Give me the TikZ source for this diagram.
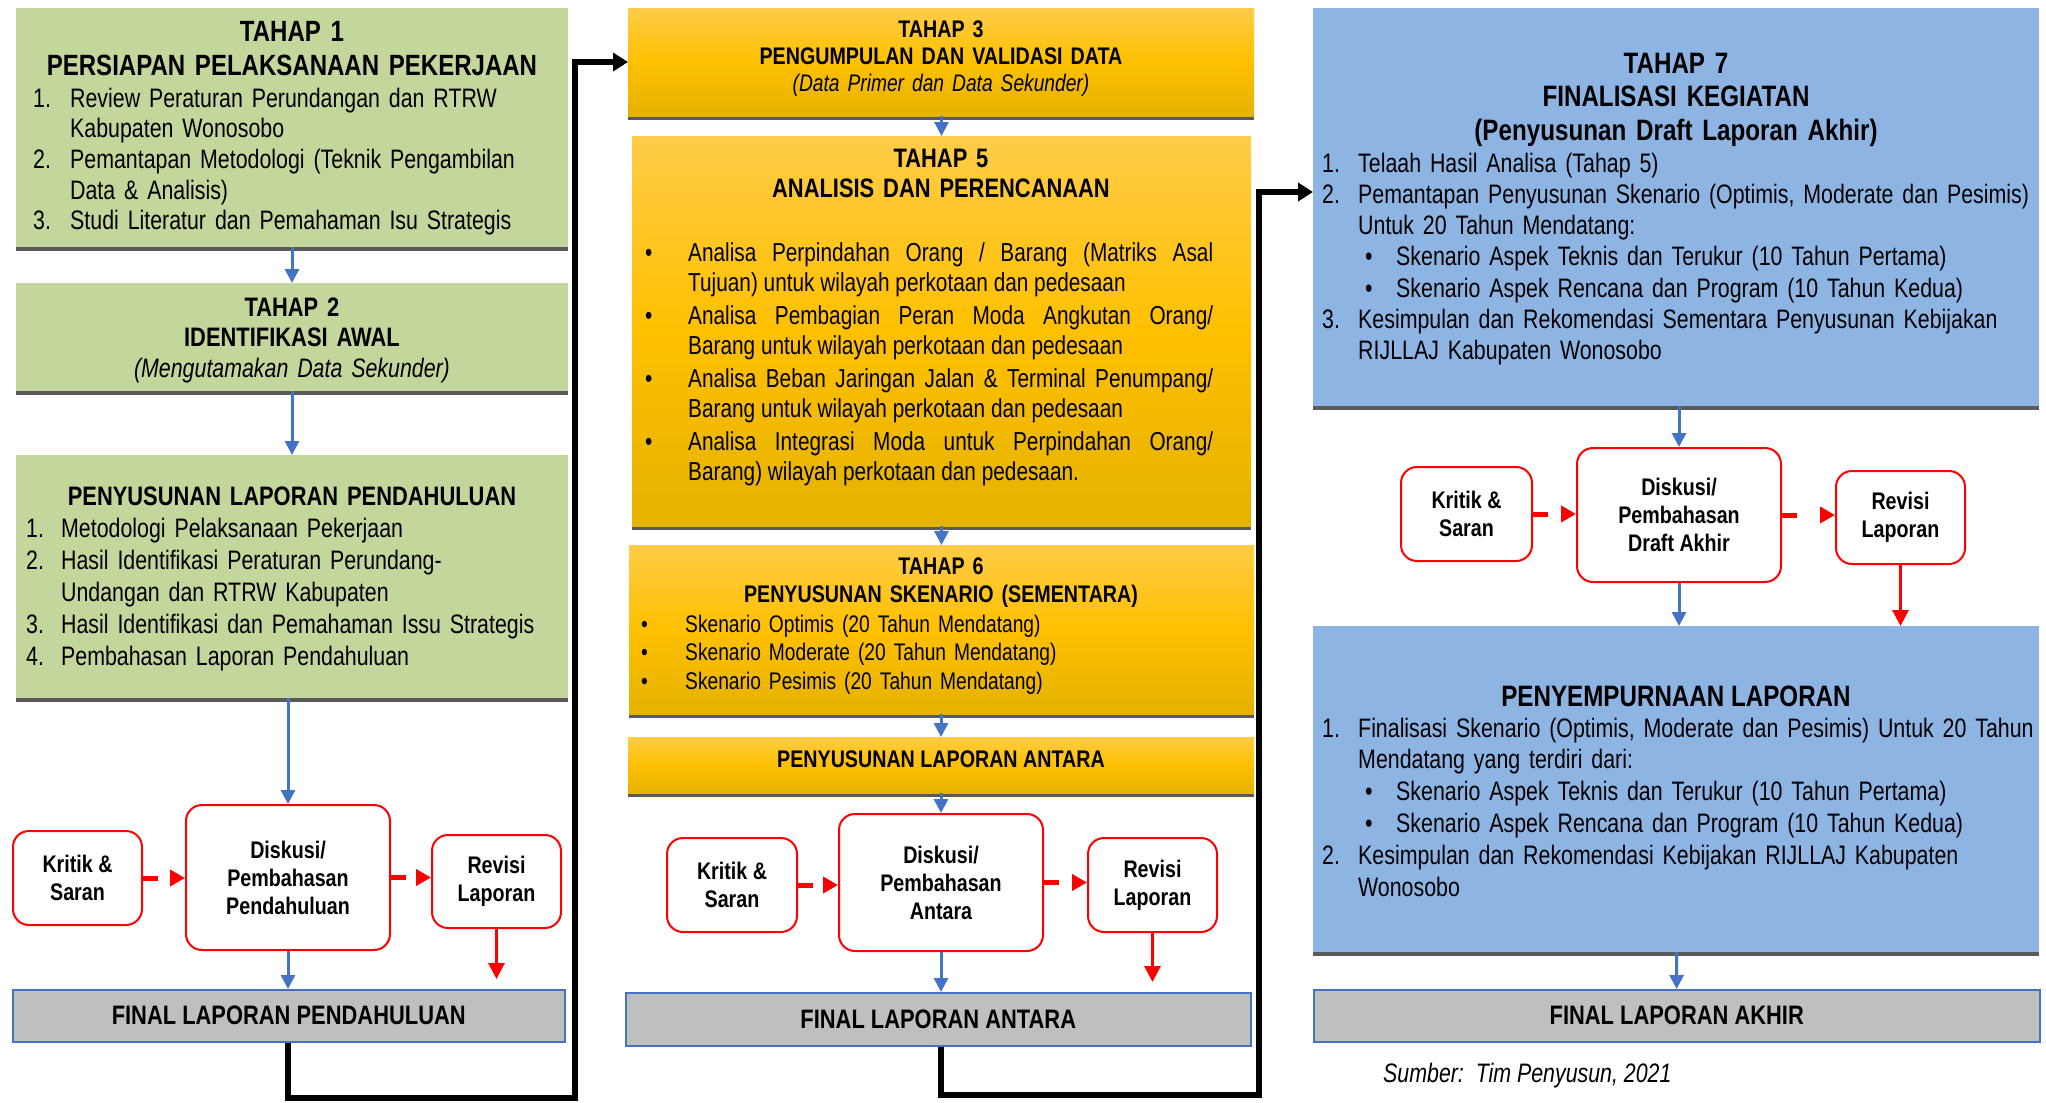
\documentclass[tikz,border=0pt]{standalone}
\usepackage{fontspec}
\setmainfont{Liberation Sans}[
  UprightFeatures={FakeStretch=0.80},
  ItalicFeatures={FakeStretch=0.80},
  BoldFeatures={FakeStretch=0.82},
  BoldItalicFeatures={FakeStretch=0.82}]
\usetikzlibrary{arrows.meta,shadows}

\definecolor{boxgreen}{RGB}{195,214,155}
\definecolor{boxblue}{RGB}{142,180,227}
\definecolor{goldtop}{RGB}{255,204,72}
\definecolor{goldmid}{RGB}{255,192,0}
\definecolor{goldbot}{RGB}{228,178,0}
\definecolor{shadowgray}{RGB}{90,90,90}
\definecolor{finalgray}{RGB}{191,191,191}
\definecolor{linkblue}{RGB}{68,114,196}
\definecolor{flowred}{RGB}{255,0,0}

\newcommand\fsz[2]{\fontsize{#1}{#2}\selectfont}
% list entry: left offset, label width, label, text
\newcommand\litem[4]{\noindent\hspace*{#1}\makebox[#2][l]{#3}\hangindent=\dimexpr#1+#2\relax\hangafter=1 #4\par}

\tikzset{
  panel/.style={anchor=north west, inner sep=0pt, outer sep=0pt,
    drop shadow={shadow xshift=0pt, shadow yshift=-4pt, fill=shadowgray, opacity=1}},
  greenpanel/.style={panel, fill=boxgreen},
  goldpanel/.style={panel, top color=goldtop, bottom color=goldbot, middle color=goldmid},
  bluepanel/.style={panel, fill=boxblue},
  finalbox/.style={anchor=north west, inner sep=0pt, fill=finalgray, draw=linkblue,
    line width=1.5pt, font=\bfseries\fsz{26.7}{30}},
  reviewbox/.style={draw=flowred, line width=2pt, rounded corners=16pt, fill=white,
    align=center, inner sep=0pt, font=\bfseries\fsz{24}{28}},
  heading/.style={inner sep=0pt, align=center, anchor=base},
  listtext/.style={inner sep=0pt, anchor=base west},
  bluearrow/.style={draw=linkblue, line width=3pt, -{Triangle[width=14pt,length=14pt]}},
  redarrow/.style={draw=flowred, line width=3pt, -{Triangle[width=16pt,length=16pt]}},
  reddash/.style={draw=flowred, line width=5pt, dash pattern=on 15pt off 40pt,
    -{Triangle[width=16pt,length=15pt]}},
  flowline/.style={draw=black, line width=6pt, -{Triangle[width=18pt,length=15pt]}},
}

\begin{document}
\hyphenpenalty=10000
\begin{tikzpicture}[x=1pt,y=-1pt]
\useasboundingbox[fill=white] (0,0) rectangle (2046,1103);

% ---------- column 1 ----------
\node[greenpanel, minimum width=552pt, minimum height=239pt] (t1) at (16,8) {};
\node[heading, text width=540pt, font=\bfseries\fsz{29.3}{34}] (t1head) at (292,41)
  {TAHAP 1\\PERSIAPAN PELAKSANAAN PEKERJAAN};
\node[listtext, text width=530pt, font=\fsz{26.7}{30.7}] (t1list) at (33,107) {%
  \litem{0pt}{37pt}{1.}{Review Peraturan Perundangan dan RTRW\newline Kabupaten Wonosobo}%
  \litem{0pt}{37pt}{2.}{Pemantapan Metodologi (Teknik Pengambilan\newline Data \& Analisis)}%
  \litem{0pt}{37pt}{3.}{Studi Literatur dan Pemahaman Isu Strategis}};

\node[greenpanel, minimum width=552pt, minimum height=108pt] (t2) at (16,283) {};
\node[heading, text width=540pt, font=\fsz{26.7}{30.7}] (t2head) at (292,316)
  {\textbf{TAHAP 2}\\\textbf{IDENTIFIKASI AWAL}\\\textit{(Mengutamakan Data Sekunder)}};

\node[greenpanel, minimum width=552pt, minimum height=243pt] (plp) at (16,455) {};
\node[heading, text width=540pt, font=\bfseries\fsz{26.7}{30.7}] (plphead) at (292,505)
  {PENYUSUNAN LAPORAN PENDAHULUAN};
\node[listtext, text width=540pt, font=\fsz{26.7}{32}] (plplist) at (26,537) {%
  \litem{0pt}{35pt}{1.}{Metodologi Pelaksanaan Pekerjaan}%
  \litem{0pt}{35pt}{2.}{Hasil Identifikasi Peraturan Perundang-\newline Undangan dan RTRW Kabupaten}%
  \litem{0pt}{35pt}{3.}{Hasil Identifikasi dan Pemahaman Issu Strategis}%
  \litem{0pt}{35pt}{4.}{Pembahasan Laporan Pendahuluan}};

\node[reviewbox, minimum width=129pt, minimum height=94pt] (k1) at (77.5,878) {Kritik \&\\Saran};
\node[reviewbox, minimum width=204pt, minimum height=145pt] (d1) at (288,877.5)
  {Diskusi/\\Pembahasan\\Pendahuluan};
\node[reviewbox, minimum width=129pt, minimum height=93pt] (v1) at (496.5,881.5) {Revisi\\Laporan};
\node[finalbox, minimum width=552pt, minimum height=52pt] (f1) at (12,989) {FINAL LAPORAN PENDAHULUAN};

% ---------- column 2 ----------
\node[goldpanel, minimum width=626pt, minimum height=108pt] (t3) at (628,8) {};
\node[heading, text width=600pt, font=\fsz{24}{27.4}] (t3head) at (941,37)
  {\textbf{TAHAP 3}\\\textbf{PENGUMPULAN DAN VALIDASI DATA}\\\textit{(Data Primer dan Data Sekunder)}};

\node[goldpanel, minimum width=619pt, minimum height=390pt] (t5) at (632,136) {};
\node[heading, text width=600pt, font=\bfseries\fsz{26.7}{30}] (t5head) at (941,167)
  {TAHAP 5\\ANALISIS DAN PERENCANAAN};
\node[listtext, text width=568pt, align=justify, font=\fsz{26}{30}] (t5list) at (645,261) {%
  \parskip=3pt\relax
  \litem{0pt}{43pt}{\textbullet}{Analisa Perpindahan Orang / Barang (Matriks Asal\linebreak Tujuan) untuk wilayah perkotaan dan pedesaan}%
  \litem{0pt}{43pt}{\textbullet}{Analisa Pembagian Peran Moda Angkutan Orang/\linebreak Barang untuk wilayah perkotaan dan pedesaan}%
  \litem{0pt}{43pt}{\textbullet}{Analisa Beban Jaringan Jalan \& Terminal Penumpang/\linebreak Barang untuk wilayah perkotaan dan pedesaan}%
  \litem{0pt}{43pt}{\textbullet}{Analisa Integrasi Moda untuk Perpindahan Orang/\linebreak Barang) wilayah perkotaan dan pedesaan.}};

\node[goldpanel, minimum width=625pt, minimum height=169pt] (t6) at (629,545) {};
\node[heading, text width=600pt, font=\bfseries\fsz{24}{28}] (t6head) at (941,574)
  {TAHAP 6\\PENYUSUNAN SKENARIO (SEMENTARA)};
\node[listtext, text width=580pt, font=\fsz{24}{28.6}] (t6list) at (641,632) {%
  \litem{0pt}{44pt}{\textbullet}{Skenario Optimis (20 Tahun Mendatang)}%
  \litem{0pt}{44pt}{\textbullet}{Skenario Moderate (20 Tahun Mendatang)}%
  \litem{0pt}{44pt}{\textbullet}{Skenario Pesimis (20 Tahun Mendatang)}};

\node[goldpanel, minimum width=626pt, minimum height=56pt] (pla) at (628,737) {};
\node[heading, font=\bfseries\fsz{24}{28}] (plahead) at (941,767) {PENYUSUNAN LAPORAN ANTARA};

\node[reviewbox, minimum width=130pt, minimum height=94pt] (k2) at (732,885) {Kritik \&\\Saran};
\node[reviewbox, minimum width=204pt, minimum height=137pt] (d2) at (941,882.5)
  {Diskusi/\\Pembahasan\\Antara};
\node[reviewbox, minimum width=129pt, minimum height=94pt] (v2) at (1152.5,885) {Revisi\\Laporan};
\node[finalbox, minimum width=625pt, minimum height=53pt] (f2) at (625,992) {FINAL LAPORAN ANTARA};

% ---------- column 3 ----------
\node[bluepanel, minimum width=726pt, minimum height=398pt] (t7) at (1313,8) {};
\node[heading, text width=700pt, font=\bfseries\fsz{29.5}{33.7}] (t7head) at (1676,73)
  {TAHAP 7\\FINALISASI KEGIATAN\\(Penyusunan Draft Laporan Akhir)};
\node[listtext, text width=722pt, font=\fsz{26.7}{31.3}] (t7list) at (1322,172) {%
  \litem{0pt}{36pt}{1.}{Telaah Hasil Analisa (Tahap 5)}%
  \litem{0pt}{36pt}{2.}{Pemantapan Penyusunan Skenario (Optimis, Moderate dan Pesimis)\newline Untuk 20 Tahun Mendatang:}%
  \litem{43pt}{31pt}{\textbullet}{Skenario Aspek Teknis dan Terukur (10 Tahun Pertama)}%
  \litem{43pt}{31pt}{\textbullet}{Skenario Aspek Rencana dan Program (10 Tahun Kedua)}%
  \litem{0pt}{36pt}{3.}{Kesimpulan dan Rekomendasi Sementara Penyusunan Kebijakan\newline RIJLLAJ Kabupaten Wonosobo}};

\node[reviewbox, minimum width=131pt, minimum height=94pt] (k3) at (1466.5,514) {Kritik \&\\Saran};
\node[reviewbox, minimum width=204pt, minimum height=134pt] (d3) at (1679,515)
  {Diskusi/\\Pembahasan\\Draft Akhir};
\node[reviewbox, minimum width=129pt, minimum height=93pt] (v3) at (1900.5,517.5) {Revisi\\Laporan};

\node[bluepanel, minimum width=726pt, minimum height=326pt] (pl) at (1313,626) {};
\node[heading, font=\bfseries\fsz{29.5}{33.7}] (plhead) at (1676,706) {PENYEMPURNAAN LAPORAN};
\node[listtext, text width=722pt, font=\fsz{26.7}{31.8}] (pllist) at (1322,737) {%
  \litem{0pt}{36pt}{1.}{Finalisasi Skenario (Optimis, Moderate dan Pesimis) Untuk 20 Tahun\newline Mendatang yang terdiri dari:}%
  \litem{43pt}{31pt}{\textbullet}{Skenario Aspek Teknis dan Terukur (10 Tahun Pertama)}%
  \litem{43pt}{31pt}{\textbullet}{Skenario Aspek Rencana dan Program (10 Tahun Kedua)}%
  \litem{0pt}{36pt}{2.}{Kesimpulan dan Rekomendasi Kebijakan RIJLLAJ Kabupaten\newline Wonosobo}};

\node[finalbox, minimum width=726pt, minimum height=52pt] (f3) at (1313,989) {FINAL LAPORAN AKHIR};

\node[anchor=base west, inner sep=0pt, font=\itshape\fsz{26.7}{30}] (src) at (1383,1082)
  {Sumber:\ \ Tim Penyusun, 2021};

% ---------- connectors, column 1 ----------
\draw[bluearrow] (t1) -- (t2);
\draw[bluearrow] (t2) -- (plp);
\draw[bluearrow] (plp.south -| d1.north) -- (d1.north);
\draw[reddash] (k1.east) -- (k1.east -| d1.west);
\draw[reddash] (d1.east) -- (d1.east -| v1.west);
\draw[bluearrow] (d1.south) -- (d1.south |- f1.north);
\coordinate (e1) at ([yshift=10pt]v1.south |- f1.north);
\draw[redarrow] (v1.south) -- (e1);

% ---------- connectors, column 2 ----------
\draw[bluearrow] (t3.south -| t5.north) -- (t5.north);
\draw[bluearrow] (t5.south -| t6.north) -- (t6.north);
\draw[bluearrow] (t6.south -| pla.north) -- (pla.north);
\draw[bluearrow] (pla.south -| d2.north) -- (d2.north);
\draw[reddash] (k2.east) -- (k2.east -| d2.west);
\draw[reddash] (d2.east) -- (d2.east -| v2.west);
\draw[bluearrow] (d2.south) -- (d2.south |- f2.north);
\coordinate (e2) at ([yshift=10pt]v2.south |- f2.north);
\draw[redarrow] (v2.south) -- (e2);

% ---------- connectors, column 3 ----------
\draw[bluearrow] (t7.south -| d3.north) -- (d3.north);
\draw[reddash] (k3.east) -- (k3.east -| d3.west);
\draw[reddash] (d3.east) -- (d3.east -| v3.west);
\draw[bluearrow] (d3.south) -- (d3.south |- pl.north);
\draw[redarrow] (v3.south) -- (v3.south |- pl.north);
\draw[bluearrow] (pl) -- (f3);

% ---------- hand-over lines between stages ----------
\coordinate (c1) at (575,1098);
\draw[flowline] (f1.south -| d1.south) |- (c1) |- (t3.west);
\coordinate (c2) at (1259,1095);
\coordinate (c2b) at (1259,192);
\draw[flowline] (f2.south -| d2.south) |- (c2) -- (c2b) -- (c2b -| t7.west);
\end{tikzpicture}
\end{document}
